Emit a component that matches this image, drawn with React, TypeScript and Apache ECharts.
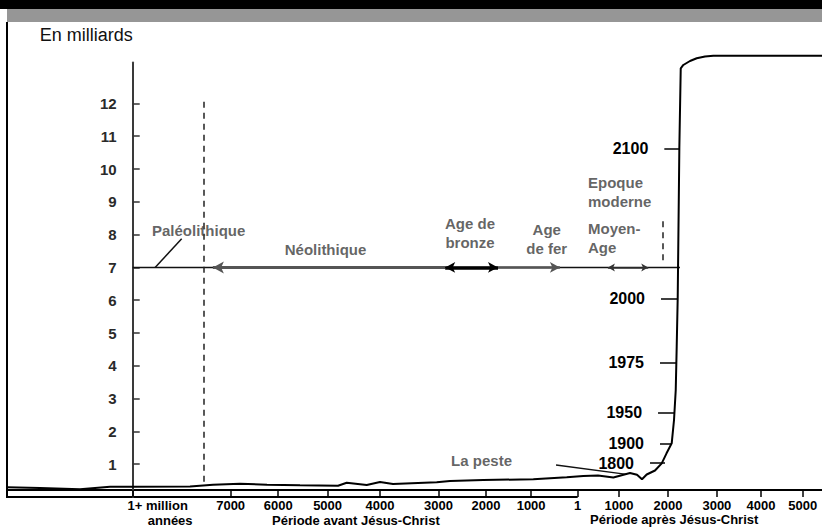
import React, { useEffect, useRef } from 'react';
import * as echarts from 'echarts';

// ---- Axis ticks (schematic time axis, u = tick slot units) ----
const tickU = [0, 2.04, 3.03, 4.06, 5.15, 6.37, 7.36, 8.3, 9.27, 10.13, 11.15, 12.17, 13.09, 13.96];
const tickLabels = ['', '7000', '6000', '5000', '4000', '3000', '2000', '1000', '1', '1000', '2000', '3000', '4000', '5000'];
const eraLabelU = [0.52, 4.65, 11.28];
const eraLabels = ['1+ million\nannées', 'Période avant Jésus-Christ', 'Période après Jésus-Christ'];
const yTicks = [1, 2, 3, 4, 5, 6, 7, 8, 9, 10, 11, 12];

// ---- Population curve (billions) ----
const popU = [-2.619, -1.931, -1.098, -0.473, 0.006, 1.194, 1.673, 2.235, 2.798, 3.485, 4.277, 4.458, 4.875, 5.152, 5.423, 6.333, 6.61, 7.304, 8.346, 9.042, 9.388, 9.694, 10.013, 10.36, 10.506, 10.61, 10.708, 10.881, 11.021, 11.121, 11.229, 11.277, 11.313, 11.333, 11.354, 11.388, 11.417, 11.471, 11.61, 11.75, 11.923, 12.096, 14.36];
const popV = [0.296, 0.274, 0.235, 0.314, 0.314, 0.32, 0.375, 0.405, 0.375, 0.357, 0.345, 0.436, 0.366, 0.457, 0.396, 0.448, 0.488, 0.518, 0.54, 0.601, 0.64, 0.655, 0.595, 0.732, 0.68, 0.54, 0.686, 0.808, 1.027, 1.332, 1.637, 2.348, 3.262, 4.582, 6.067, 10.631, 13.07, 13.171, 13.293, 13.375, 13.43, 13.454, 13.454];

// ---- Year markers on the rising curve ----
const markerYears = [1800, 1900, 1950, 1975, 2000, 2100];
const markerV = [1.034, 1.637, 2.567, 4.107, 6.058, 10.631];
const markerUStart = [10.777, 10.985, 10.944, 10.985, 11.006, 11.075];
const markerUEnd = [11.09, 11.235, 11.298, 11.319, 11.36, 11.4];

// ---- Periods on the timeline (level 7) ----
const periodNames = ['Paléolithique', 'Néolithique', 'Age de\nbronze', 'Age\nde fer', 'Moyen-\nAge', 'Epoque\nmoderne'];
const periodStartU = [0, 1.67, 6.51, 7.61, 9.9, 10.74];
const periodEndU = [1.48, 6.51, 7.61, 8.9, 10.74, 11.4];
const periodLevel = 7;
const modernBoundaryU = 11.04;

// annotation anchors (data coordinates)
const periodLabelU = [1.374, 4.017, 7.027, 8.625, 9.485, 9.485];
const periodLabelV = [8.14, 7.56, 8.064, 7.866, 7.896, 9.314];
const plagueLabel = { name: 'La peste', u: 7.267, v: 1.107 };

const X_MIN = -2.619;
const X_MAX = 14.36;
const GRID_LEFT = 7;
const GRID_BOTTOM_Y = 497;
const PX_PER_U = (822 - GRID_LEFT) / (X_MAX - X_MIN);
const FONT = "'Liberation Sans', Arial, Helvetica, sans-serif";

export default function App() {
  const ref = useRef<HTMLDivElement>(null);

  useEffect(() => {
    if (!ref.current) return;
    const chart = echarts.init(ref.current, null, { renderer: 'svg' });

    const segStyles = [
      null,
      { s: ['arrow', 'none'], size: [9, 11], color: '#555', width: 3 },
      { s: ['arrow', 'arrow'], size: [8, 10], color: '#000', width: 3.5 },
      { s: ['none', 'arrow'], size: [8, 10], color: '#555', width: 2.5 },
      { s: ['arrow', 'arrow'], size: [6, 7], color: '#333', width: 1.5 },
      null,
    ];
    const segData: any[] = [];
    segStyles.forEach((st, i) => {
      if (!st) return;
      segData.push([
        { coord: [periodStartU[i], periodLevel], symbol: st.s[0], symbolSize: st.size, lineStyle: { color: st.color, width: st.width, type: 'solid' } },
        { coord: [periodEndU[i], periodLevel], symbol: st.s[1], symbolSize: st.size },
      ]);
    });
    const dashStyle = { color: '#222', width: 1.5, type: [6, 5] };
    segData.push([
      { coord: [periodEndU[0], 12.05], lineStyle: dashStyle },
      { coord: [periodEndU[0], 0.345] },
    ]);
    segData.push([
      { coord: [modernBoundaryU, 8.41], lineStyle: dashStyle },
      { coord: [modernBoundaryU, 7.07] },
    ]);
    // leader lines
    segData.push([
      { coord: [0.467, 7.0], lineStyle: { color: '#111', width: 1.5, type: 'solid' } },
      { coord: [1.02, 7.87] },
    ]);
    segData.push([
      { coord: [8.819, 0.976], lineStyle: { color: '#111', width: 1.3, type: 'solid' } },
      { coord: [10.29, 0.692] },
    ]);

    const labelData: any[] = periodNames.map((n, i) => ({
      name: n,
      value: [periodLabelU[i], periodLabelV[i]],
      label: { align: i >= 4 ? 'left' : 'center' },
    }));
    labelData.push({ name: plagueLabel.name, value: [plagueLabel.u, plagueLabel.v], label: { align: 'center' } });

    const yAxisX = GRID_LEFT + (0 - X_MIN) * PX_PER_U;
    const bcEndX = GRID_LEFT + (tickU[8] - X_MIN) * PX_PER_U;

    const option: any = {
      animation: false,
      backgroundColor: '#fff',
      grid: { left: GRID_LEFT, right: 0, top: 62.4, bottom: 529 - GRID_BOTTOM_Y, containLabel: false, outerBoundsMode: 'none' },
      xAxis: [
        {
          type: 'value',
          min: X_MIN,
          max: X_MAX,
          position: 'bottom',
          axisLine: { show: false, onZero: false },
          axisTick: { show: true, inside: true, length: 7, customValues: tickU, lineStyle: { color: '#000', width: 1.5 } },
          axisLabel: {
            show: true,
            customValues: tickU.slice(1),
            margin: 2,
            fontSize: 13,
            fontWeight: 'bold',
            color: '#000',
            lineHeight: 13,
            fontFamily: FONT,
            formatter: (v: number) => {
              const i = tickU.findIndex((t) => Math.abs(t - v) < 1e-6);
              return i >= 0 ? tickLabels[i] : '';
            },
          },
          splitLine: { show: false },
        },
        {
          type: 'value',
          min: X_MIN,
          max: X_MAX,
          position: 'bottom',
          axisLine: { show: false, onZero: false },
          axisTick: { show: false },
          axisLabel: {
            show: true,
            customValues: eraLabelU,
            margin: 0.5,
            fontFamily: FONT,
            formatter: (v: number) => {
              const i = eraLabelU.findIndex((t) => Math.abs(t - v) < 1e-6);
              if (i === 0) {
                const parts = eraLabels[0].split('\n');
                return `{a|${parts[0]}}\n{b|${parts[1]}}`;
              }
              if (i === 1) return `{e| }\n{p|${eraLabels[1]}}`;
              if (i === 2) return `{f| }\n{q|${eraLabels[2]}}`;
              return '';
            },
            rich: {
              a: { fontSize: 13, fontWeight: 'bold', color: '#000', lineHeight: 15, fontFamily: FONT },
              b: { fontSize: 13, fontWeight: 'bold', color: '#000', lineHeight: 15, fontFamily: FONT, padding: [0, 0, 0, 25] },
              e: { fontSize: 13, lineHeight: 15 },
              f: { fontSize: 13, lineHeight: 15 },
              p: { fontSize: 13, fontWeight: 'bold', color: '#000', lineHeight: 15, fontFamily: FONT },
              q: { fontSize: 13, fontWeight: 'bold', color: '#000', lineHeight: 13, fontFamily: FONT },
            },
          },
          splitLine: { show: false },
        },
      ],
      yAxis: {
        type: 'value',
        min: 0,
        max: 13.25,
        offset: -(yAxisX - GRID_LEFT),
        name: 'En milliards',
        nameLocation: 'end',
        nameGap: 27,
        nameTextStyle: { align: 'right', verticalAlign: 'middle', fontSize: 18, color: '#111', fontFamily: FONT },
        axisLine: { show: true, onZero: false, lineStyle: { color: '#3a3a3a', width: 2 } },
        axisTick: { show: true, inside: true, length: 7, customValues: yTicks, lineStyle: { color: '#333', width: 1.5 } },
        axisLabel: { show: true, customValues: yTicks, margin: 16, fontSize: 15, fontWeight: 'bold', color: '#2a2a2a', fontFamily: FONT },
        splitLine: { show: false },
      },
      graphic: [
        { type: 'rect', silent: true, shape: { x: 0, y: 0, width: 822, height: 9 }, style: { fill: '#000' } },
        { type: 'rect', silent: true, shape: { x: 7, y: 9, width: 815, height: 13 }, style: { fill: '#969696' } },
        { type: 'line', silent: true, shape: { x1: 7, y1: 22, x2: 7, y2: 498 }, style: { stroke: '#000', lineWidth: 2 } },
        { type: 'line', silent: true, shape: { x1: 7, y1: 490, x2: 822, y2: 490 }, style: { stroke: '#000', lineWidth: 2 } },
        { type: 'line', silent: true, shape: { x1: 7, y1: GRID_BOTTOM_Y, x2: bcEndX, y2: GRID_BOTTOM_Y }, style: { stroke: '#000', lineWidth: 2 } },
      ],
      series: [
        {
          type: 'line',
          name: 'periodes',
          data: [[periodStartU[0], periodLevel], [periodEndU[periodEndU.length - 1], periodLevel]],
          symbol: 'none',
          silent: true,
          lineStyle: { color: '#111', width: 1.5 },
          z: 3,
          markLine: {
            silent: true,
            animation: false,
            symbol: ['none', 'none'],
            label: { show: false },
            emphasis: { disabled: true },
            lineStyle: { color: '#000', width: 1.5, type: 'solid' },
            data: segData,
          },
        },
        {
          type: 'line',
          name: 'population',
          data: popU.map((u, i) => [u, popV[i]]),
          symbol: 'none',
          clip: false,
          silent: true,
          smooth: false,
          lineStyle: { color: '#000', width: 2 },
          z: 5,
          markLine: {
            silent: true,
            animation: false,
            symbol: ['none', 'none'],
            emphasis: { disabled: true },
            lineStyle: { color: '#000', width: 1.5, type: 'solid' },
            label: {
              show: true,
              position: 'start',
              formatter: '{b}',
              distance: 16,
              fontSize: 16,
              fontWeight: 'bold',
              color: '#000',
              fontFamily: FONT,
              padding: [0, 0, 12, 0],
            },
            data: markerYears.map((y, i) => [
              { name: String(y), coord: [markerUStart[i], markerV[i]] },
              { coord: [markerUEnd[i], markerV[i]] },
            ]),
          },
        },
        {
          type: 'scatter',
          name: 'labels',
          symbolSize: 1,
          silent: true,
          itemStyle: { color: 'transparent' },
          label: {
            show: true,
            position: 'inside',
            formatter: '{b}',
            fontSize: 15,
            fontWeight: 'bold',
            color: '#3c3c3c',
            lineHeight: 19,
            fontFamily: FONT,
          },
          data: labelData,
          z: 6,
        },
      ],
    };

    chart.setOption(option);
    return () => chart.dispose();
  }, []);

  return (
    <div
      ref={ref}
      style={{ position: 'fixed', left: 0, top: 0, width: 822, height: 529, background: '#fff' }}
    />
  );
}
